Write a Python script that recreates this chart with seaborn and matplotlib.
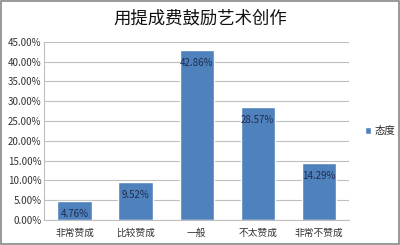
import matplotlib
matplotlib.use("Agg")
import matplotlib.pyplot as plt
import seaborn as sns
import pandas as pd
from matplotlib.ticker import FuncFormatter, MultipleLocator
from matplotlib.patches import Rectangle

categories = ["非常赞成", "比较赞成", "一般", "不太赞成", "非常不赞成"]
values = [4.76, 9.52, 42.86, 28.57, 14.29]
series_name = "态度"
title = "用提成费鼓励艺术创作"

sns.set_theme(style="white")
plt.rcParams['font.family'] = ['Noto Sans CJK SC', 'DejaVu Sans']

df = pd.DataFrame({"cat": categories, "val": values})

fig = plt.figure(figsize=(4.0, 2.45), dpi=100)
ax = fig.add_axes([0.11, 0.102, 0.763, 0.727])
color = "#4F81BD"
sns.barplot(data=df, x="cat", y="val", color=color, width=0.56, ax=ax,
            saturation=1, label=series_name)

ax.set_ylim(0, 45)
ax.yaxis.set_major_locator(MultipleLocator(5))
ax.yaxis.set_major_formatter(FuncFormatter(lambda v, p: f"{v:.2f}%"))
ax.grid(axis="y", color="#BFBFBF", linewidth=0.8)
ax.set_axisbelow(True)
for s in ["top", "right"]:
    ax.spines[s].set_visible(False)
ax.spines["left"].set_color("#BFBFBF")
ax.spines["bottom"].set_color("#BFBFBF")
ax.spines["left"].set_linewidth(0.8)
ax.spines["bottom"].set_linewidth(0.8)
ax.set_xlabel("")
ax.set_ylabel("")
ax.tick_params(axis="both", labelsize=7, colors="#333333", length=0)
ax.tick_params(axis="y", pad=2)
ax.tick_params(axis="x", pad=6)

for i, v in enumerate(values):
    ax.annotate(f"{v:.2f}%", (i, v), xytext=(0, -5.5), textcoords="offset points",
                ha="center", va="top", fontsize=7, color="#1F2D4F")

leg = ax.legend(loc="center left", bbox_to_anchor=(1.02, 0.5), frameon=False,
                fontsize=7.5, handlelength=0.6, handleheight=0.6, handletextpad=0.3)

fig.text(0.5, 0.925, title, ha="center", va="center", fontsize=12.5, color="#111111")
fig.patches.append(Rectangle((0.003, 0.005), 0.994, 0.99, transform=fig.transFigure,
                             fill=False, edgecolor="#888888", linewidth=1.2))
fig.savefig("out.png", dpi=100)
